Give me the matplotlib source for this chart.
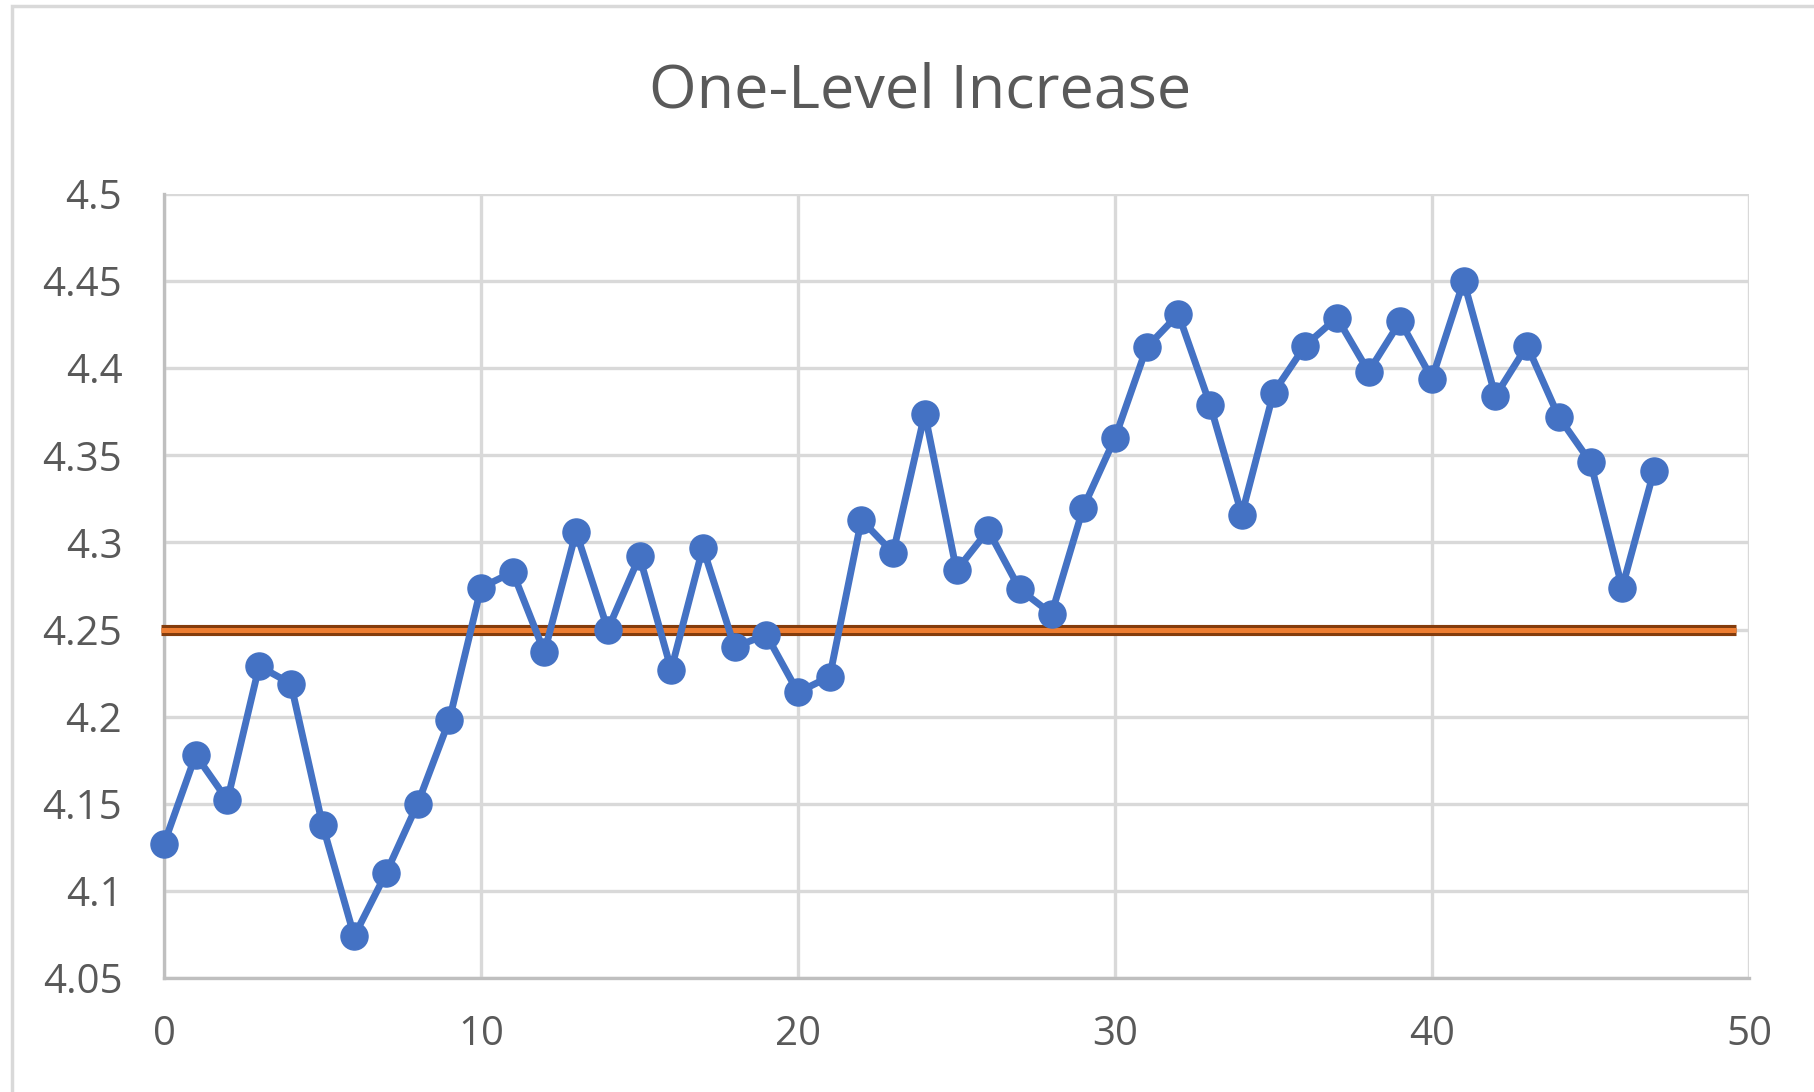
import numpy as np
import matplotlib.pyplot as plt
from matplotlib.patches import Rectangle

x_vals = list(range(48))
y_vals = [4.127, 4.178, 4.152, 4.229, 4.219, 4.138, 4.074, 4.110, 4.150, 4.198,
          4.274, 4.283, 4.237, 4.306, 4.250, 4.292, 4.227, 4.297, 4.240, 4.247,
          4.214, 4.223, 4.313, 4.294, 4.374, 4.284, 4.307, 4.273, 4.259, 4.320,
          4.360, 4.412, 4.431, 4.379, 4.316, 4.386, 4.413, 4.429, 4.398, 4.427,
          4.394, 4.450, 4.384, 4.413, 4.372, 4.346, 4.274, 4.341]
level_x = [-0.08, 49.6]
level_y = [4.25, 4.25]

x_ticks = [0, 10, 20, 30, 40, 50]
y_ticks = [4.05, 4.1, 4.15, 4.2, 4.25, 4.3, 4.35, 4.4, 4.45, 4.5]
y_labels = ['4.05', '4.1', '4.15', '4.2', '4.25', '4.3', '4.35', '4.4', '4.45', '4.5']

plt.rcParams['font.family'] = ['Open Sans', 'DejaVu Sans']
text_col = '#595959'
grid_col = '#d9d9d9'

fig = plt.figure(figsize=(18.14, 10.92), dpi=100)
# chart border (cut off on the right and bottom)
fig.patches.append(Rectangle((12 / 1814, -0.1), 2.0, 1.1 - 6 / 1092,
                             transform=fig.transFigure, fill=False,
                             edgecolor=grid_col, linewidth=2.5))

ax = fig.add_axes([164 / 1814, 1 - 978 / 1092, (1749 - 164) / 1814, (978 - 194) / 1092])
ax.set_xlim(0, 50)
ax.set_ylim(4.05, 4.5)

ax.set_xticks(x_ticks)
ax.set_yticks(y_ticks)
ax.set_yticklabels(y_labels)
ax.grid(True, color=grid_col, linewidth=2.4)
ax.set_axisbelow(True)
for s in ['top', 'right']:
    ax.spines[s].set_visible(False)
for s in ['left', 'bottom']:
    ax.spines[s].set_color('#bfbfbf')
    ax.spines[s].set_linewidth(2.4)
ax.tick_params(length=0, labelsize=29, labelcolor=text_col)
ax.tick_params(axis='x', pad=26)
ax.tick_params(axis='y', pad=30)

ax.plot(level_x, level_y, color='#843c0c', linewidth=8, solid_capstyle='butt',
        zorder=3, clip_on=False)
ax.plot(level_x, level_y, color='#ed7d31', linewidth=3.6, solid_capstyle='butt',
        zorder=3, clip_on=False)

ax.plot(x_vals, y_vals, color='#4472c4', linewidth=5, marker='o', markersize=19.5,
        zorder=4, clip_on=False)

fig.text(920 / 1814, 1 - 91 / 1092, 'One-Level Increase', ha='center',
         va='center', fontsize=44, color=text_col)

fig.savefig('out.png', dpi=100)
